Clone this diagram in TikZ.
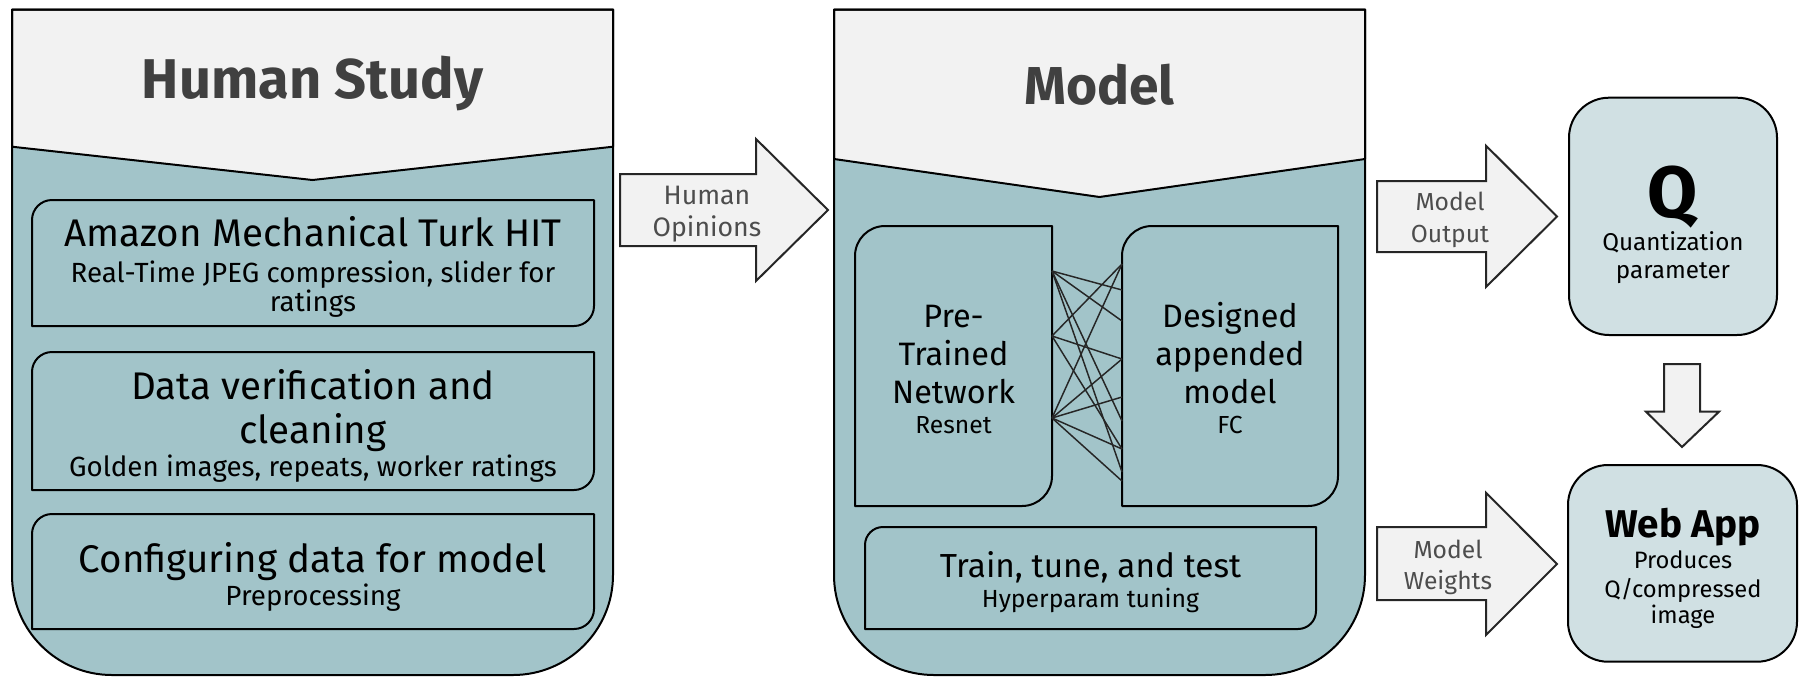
\documentclass[tikz,border=0pt]{standalone}
\usepackage{fontspec}
\setmainfont{Fira Sans}
\definecolor{panel}{HTML}{A2C4C9}
\definecolor{header}{HTML}{F2F2F2}
\definecolor{light}{HTML}{D0E0E3}
\definecolor{titlegray}{HTML}{404040}
\definecolor{labelgray}{HTML}{4D4D4D}
\newcommand{\fsz}[1]{\fontsize{#1}{#1}\selectfont}
% box with rounded top-left and bottom-right corners: x1 y1 x2 y2 r
\newcommand{\cutbox}[5]{%
  \draw[boxline,fill=panel] (#1,#2+#5) arc[start angle=180,end angle=270,radius=#5]
    -- (#3,#2) -- (#3,#4-#5) arc[start angle=0,end angle=90,radius=#5]
    -- (#1,#4) -- cycle;}
% tall panel with a header pointing down: x1 x2 ytop yside ytip
\newcommand{\panelbox}[5]{%
  \fill[panel] (#1,#3) -- (#2,#3) -- (#2,575) arc[start angle=0,end angle=90,radius=100]
    -- (#1+100,675) arc[start angle=90,end angle=180,radius=100] -- cycle;
  \draw[boxline,fill=header] (#1,#3) -- (#2,#3) -- (#2,#4) -- ({(#1+#2)/2},#5) -- (#1,#4) -- cycle;
  \draw[boxline] (#1,#3) -- (#2,#3) -- (#2,575) arc[start angle=0,end angle=90,radius=100]
    -- (#1+100,675) arc[start angle=90,end angle=180,radius=100] -- cycle;}
\begin{document}
\begin{tikzpicture}[x=0.75pt,y=-0.75pt,
  boxline/.style={draw=black,line width=1.5pt,line join=round},
  flow/.style={draw=black!85,line width=1.5pt,fill=header,line join=miter},
  txt/.style={inner sep=0pt,anchor=base,align=center},
  title/.style={txt,text=titlegray,font=\fsz{42pt}\bfseries},
  head/.style={txt,font=\fsz{28.9pt}},
  detail/.style={txt,font=\fsz{20.8pt}},
  flowlabel/.style={txt,text=labelgray,font=\fsz{18.5pt}},
  net/.style={draw=black!85,line width=1.1pt}]
\useasboundingbox (0,0) rectangle (1799,676);

% ---------------- Human Study panel ----------------
\panelbox{12}{613}{9.5}{146.7}{180}
\node[title] (hstitle) at (312.5,98.5) {Human Study};

\cutbox{32}{200}{594}{326}{20}
\node[head] (mturk) at (313,246) {Amazon Mechanical Turk HIT};
\node[detail] (mturk1) at (313,282) {Real-Time JPEG compression, slider for};
\node[detail] (mturk2) at (313,311) {ratings};

\cutbox{32}{352}{594}{490}{20}
\node[head] (verify1) at (313,399.7) {Data verification and};
\node[head] (verify2) at (313,443) {cleaning};
\node[detail] (verify3) at (313,476) {Golden images, repeats, worker ratings};

\cutbox{32}{514}{594}{629}{20}
\node[head] (config) at (313,572.3) {Configuring data for model};
\node[detail] (config1) at (313,605) {Preprocessing};

% ---------------- Human Opinions arrow ----------------
\draw[flow] (620,174) -- (756,174) -- (756,139) -- (828,210) -- (756,281) -- (756,246) -- (620,246) -- cycle;
\node[flowlabel,font=\fsz{20pt}] (op1) at (707,204) {Human};
\node[flowlabel,font=\fsz{20pt}] (op2) at (707,236.5) {Opinions};

% ---------------- Model panel ----------------
\panelbox{834}{1365}{9.5}{159}{197}
\node[title,font=\fsz{40pt}\bfseries] (mtitle) at (1099.5,104) {Model};

\cutbox{855}{226}{1052}{506}{30}
\node[head,font=\fsz{24.3pt}] (pre1) at (953.5,327) {Pre-};
\node[head,font=\fsz{24.3pt}] (pre2) at (953.5,365) {Trained};
\node[head,font=\fsz{24.3pt}] (pre3) at (953.5,403.7) {Network};
\node[txt,font=\fsz{18.5pt}] (pre4) at (953.5,433.7) {Resnet};

\cutbox{1122}{226}{1338}{506}{30}
\node[head,font=\fsz{24.3pt}] (des1) at (1230,327) {Designed};
\node[head,font=\fsz{24.3pt}] (des2) at (1230,365) {appended};
\node[head,font=\fsz{24.3pt}] (des3) at (1230,403.7) {model};
\node[txt,font=\fsz{18.5pt}] (des4) at (1230,433.7) {FC};

% connections between the two networks
\foreach \n/\y in {1/271,2/336,3/418}
  \coordinate (L\n) at (1052,\y);
\foreach \n/\y in {1/264,2/290,3/321,4/359,5/397,6/421,7/449,8/472,9/481}
  \coordinate (R\n) at (1122,\y);
\foreach \a/\b in {1/2,1/3,1/6,1/8,2/1,2/4,2/7,3/1,3/4,3/5,3/7,3/9}
  \draw[net] (L\a) -- (R\b);

\cutbox{865}{527}{1316}{629}{18}
\node[txt,font=\fsz{25pt}] (train) at (1090.5,577) {Train, tune, and test};
\node[txt,font=\fsz{18.6pt}] (train1) at (1090.5,607) {Hyperparam tuning};

% ---------------- Model Output arrow ----------------
\draw[flow] (1377,181) -- (1486,181) -- (1486,145.7) -- (1557,216.5) -- (1486,287) -- (1486,252) -- (1377,252) -- cycle;
\node[flowlabel] (out1) at (1450,210) {Model};
\node[flowlabel] (out2) at (1450,242.5) {Output};

% ---------------- Model Weights arrow ----------------
\draw[flow] (1377,527) -- (1486,527) -- (1486,492.7) -- (1557,564) -- (1486,635) -- (1486,600) -- (1377,600) -- cycle;
\node[flowlabel] (w1) at (1448,558) {Model};
\node[flowlabel] (w2) at (1448,589) {Weights};

% ---------------- Q box ----------------
\draw[boxline,fill=light,rounded corners=30pt] (1569,97.7) rectangle (1777,335);
\node[txt,font=\fsz{54.5pt}\bfseries] (q) at (1673,217) {Q};
\node[txt,font=\fsz{18.2pt}] (q1) at (1673,250) {Quantization};
\node[txt,font=\fsz{18.2pt}] (q2) at (1673,278) {parameter};

% ---------------- down arrow ----------------
\draw[flow] (1664,364) -- (1700,364) -- (1700,411.7) -- (1719,411.7) -- (1682,447) -- (1646,411.7) -- (1664,411.7) -- cycle;

% ---------------- Web App box ----------------
\draw[boxline,fill=light,rounded corners=30pt] (1568,465) rectangle (1797,661.7);
\node[txt,font=\fsz{29pt}\bfseries] (web) at (1683,537) {Web App};
\node[txt,font=\fsz{17.8pt}] (web1) at (1683,568.7) {Produces};
\node[txt,font=\fsz{17.8pt}] (web2) at (1683,597) {Q/compressed};
\node[txt,font=\fsz{17.8pt}] (web3) at (1683,623.7) {image};
\end{tikzpicture}
\end{document}
